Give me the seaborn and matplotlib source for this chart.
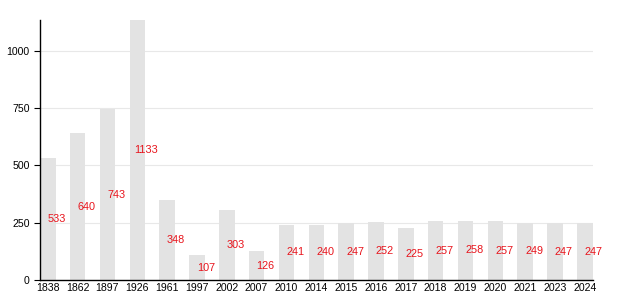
import matplotlib
matplotlib.use("Agg")
import matplotlib.pyplot as plt
import seaborn as sns
import pandas as pd

years = ["1838", "1862", "1897", "1926", "1961", "1997", "2002", "2007", "2010", "2014",
         "2015", "2016", "2017", "2018", "2019", "2020", "2021", "2023", "2024"]
values = [533, 640, 743, 1133, 348, 107, 303, 126, 241, 240,
          247, 252, 225, 257, 258, 257, 249, 247, 247]
yticks = [0, 250, 500, 750, 1000]

sns.set_theme(style="white")
plt.rcParams['font.family'] = ['Liberation Sans', 'DejaVu Sans']

df = pd.DataFrame({"year": years, "value": values})

fig = plt.figure(figsize=(6.3, 3.0), dpi=100)
ax = fig.add_axes([0.0635, 0.0667, 0.877, 0.8667])
bw = 0.52
sns.barplot(data=df, x="year", y="value", color="#e3e3e3", width=bw, ax=ax,
            saturation=1, edgecolor="none", zorder=2)

for i, v in enumerate(values):
    ax.text(i + 0.3, v / 2, str(v), color="#e8141c", fontsize=7.8,
            ha="center", va="center", zorder=3)

n = len(years)
ax.set_xlim(-bw / 2, n - 1 + bw / 2)
ax.set_ylim(0, 1133)
ax.set_yticks(yticks)
ax.yaxis.grid(True, color="#e8e8e8", linewidth=0.8, zorder=0)
ax.set_axisbelow(True)
ax.set_xlabel("")
ax.set_ylabel("")
for s in ["top", "right"]:
    ax.spines[s].set_visible(False)
for s in ["left", "bottom"]:
    ax.spines[s].set_color("black")
    ax.spines[s].set_linewidth(1.0)
ax.tick_params(axis="both", labelsize=7.6, colors="black")
ax.tick_params(axis="y", length=4.5, width=0.8, left=True, pad=3)
ax.tick_params(axis="x", length=0, pad=2)

fig.savefig("out.png", dpi=100)
